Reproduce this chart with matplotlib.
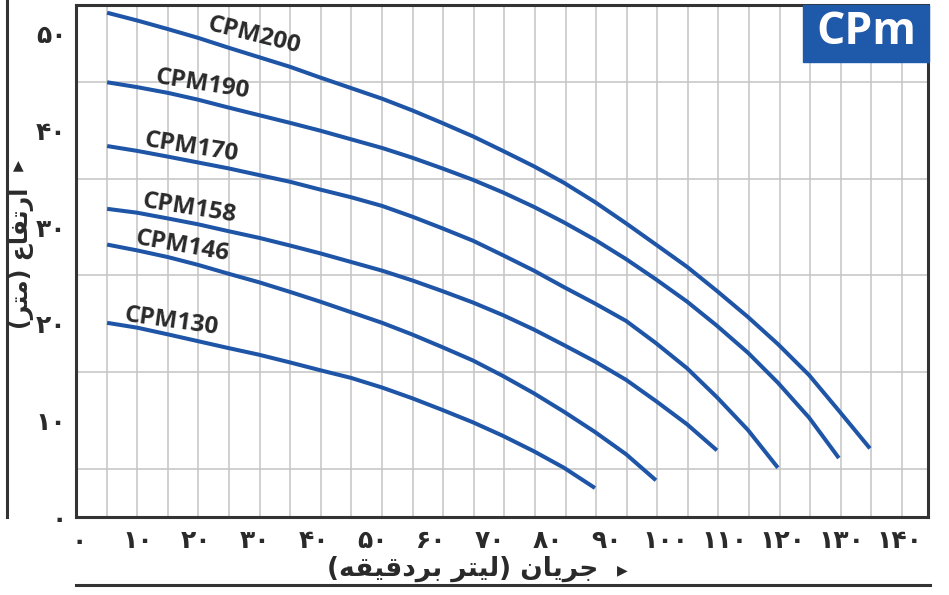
import numpy as np
import matplotlib
matplotlib.use("Agg")
import matplotlib.pyplot as plt
from matplotlib.lines import Line2D
from matplotlib.patches import Rectangle

# flow values (l/min) where the heads were read, one per vertical grid line
flow_lpm = [4.8, 9.9, 15.2, 20.3, 25.4, 30.7, 36.0, 41.1, 46.4, 51.7, 56.8, 61.9, 67.2,
            72.3, 77.6, 82.7, 88.0, 93.3, 98.4, 103.7, 108.8, 114.1, 119.2, 124.5, 129.6, 134.9]

# head (m) of each pump at those flows; each curve stops where the picture stops
cpm200_h = [52.2, 51.4, 50.5, 49.6, 48.6, 47.6, 46.6, 45.5, 44.4, 43.3, 42.1, 40.8, 39.4,
            37.9, 36.3, 34.6, 32.6, 30.4, 28.2, 25.9, 23.4, 20.7, 17.9, 14.7, 11.0, 7.1]
cpm190_h = [45.0, 44.5, 43.9, 43.2, 42.4, 41.6, 40.8, 40.0, 39.1, 38.2, 37.2, 36.1, 34.9,
            33.6, 32.1, 30.5, 28.7, 26.7, 24.6, 22.3, 19.8, 17.0, 13.9, 10.3, 6.1]
cpm170_h = [38.4, 37.9, 37.3, 36.7, 36.1, 35.4, 34.7, 33.9, 33.1, 32.2, 31.1, 29.9, 28.6,
            27.1, 25.5, 23.8, 22.1, 20.3, 18.0, 15.4, 12.4, 9.0, 5.1]
cpm158_h = [31.9, 31.5, 30.9, 30.3, 29.6, 28.9, 28.1, 27.3, 26.4, 25.5, 24.5, 23.4, 22.2,
            20.9, 19.4, 17.8, 16.1, 14.2, 12.0, 9.6, 6.9]
cpm146_h = [28.2, 27.6, 26.9, 26.1, 25.2, 24.3, 23.3, 22.3, 21.2, 20.1, 18.9, 17.6, 16.2,
            14.6, 12.8, 10.9, 8.8, 6.5, 3.8]
cpm130_h = [20.1, 19.6, 18.9, 18.2, 17.5, 16.8, 16.0, 15.2, 14.4, 13.4, 12.3, 11.1, 9.8,
            8.4, 6.8, 5.1, 3.0]

curve_names = ["CPM200", "CPM190", "CPM170", "CPM158", "CPM146", "CPM130"]
# label anchor (flow, head) and angle
label_pos = [(29.8, 49.8, -14), (21.1, 44.8, -9), (19.1, 38.3, -9),
             (18.8, 31.9, -9), (17.6, 28.0, -10), (15.7, 20.2, -8)]

x_ticks = list(range(0, 141, 10))
y_ticks = list(range(0, 51, 10))

FA_DIGITS = str.maketrans("0123456789", "۰۱۲۳۴۵۶۷۸۹")


def fa_num(v):
    return str(v).translate(FA_DIGITS)


def visual(s):
    # matplotlib has no RTL layout, so flip the pre-shaped string
    return s[::-1].translate(str.maketrans("()", ")("))


# presentation forms typed in logical order
xlabel_fa = visual("\uFE9F\uFEAE\uFEF3\uFE8E\uFEE5 (\uFEDF\uFEF4\uFE98\uFEAE \uFE91\uFEAE\uFEA9\uFED7\uFEF4\uFED8\uFEEA)")
ylabel_fa = visual("\uFE8D\uFEAD\uFE97\uFED4\uFE8E\uFEC9 (\uFEE3\uFE98\uFEAE)")

blue = "#1f55a6"
dark = "#333333"
ink = "#2a2a2a"

fig = plt.figure(figsize=(9.49, 5.95), dpi=100)
ax = fig.add_axes([76 / 949, 1 - 517 / 595, 852 / 949, 512 / 595])

ax.set_xlim(-0.51, 144.8)
ax.set_ylim(0, 53)

heads = [cpm200_h, cpm190_h, cpm170_h, cpm158_h, cpm146_h, cpm130_h]
for h, name, (lx, ly, rot) in zip(heads, curve_names, label_pos):
    ax.plot(flow_lpm[:len(h)], h, color=blue, lw=2.9, solid_capstyle="butt",
            solid_joinstyle="round", zorder=3)
    ax.text(lx, ly, name, rotation=rot, rotation_mode="anchor", ha="center", va="center",
            fontsize=17.5, fontweight="bold", family="Open Sans", color=ink, zorder=4)

# grid: one vertical line every 5.218 label units, one horizontal every 5 m
ax.set_xticks(-0.51 + 5.218 * np.arange(1, 28), minor=True)
ax.set_yticks(np.arange(5, 51, 5), minor=True)
ax.grid(which="minor", color="#c4c4c4", lw=1.1)
ax.grid(which="major", visible=False)

ax.set_xticks(x_ticks)
ax.set_xticklabels([fa_num(v) for v in x_ticks], fontsize=18, fontweight="bold", family="DejaVu Sans")
ax.set_yticks(y_ticks)
ax.set_yticklabels([fa_num(v) for v in y_ticks], fontsize=18, fontweight="bold", family="DejaVu Sans")
ax.tick_params(which="both", length=0)
ax.tick_params(axis="x", pad=9)
ax.tick_params(axis="y", pad=7)
for t in ax.get_xticklabels() + ax.get_yticklabels():
    t.set_color(ink)

for sp in ax.spines.values():
    sp.set_color(dark)
    sp.set_linewidth(2.2)

# axis titles, arrows and frame lines
fig.text(463 / 949, 1 - 569 / 595, xlabel_fa, ha="center", va="center",
         fontsize=19, fontweight="bold", family="DejaVu Sans", color=ink)
fig.text(622 / 949, 1 - 570 / 595, "\u25B6", ha="center", va="center", fontsize=10, color=ink)
fig.text(21 / 949, 1 - 258 / 595, ylabel_fa, ha="center", va="center", rotation=90,
         fontsize=17, fontweight="bold", family="DejaVu Sans", color=ink)
fig.text(18 / 949, 1 - 165 / 595, "\u25B2", ha="center", va="center", fontsize=10, color=ink)

fig.add_artist(Line2D([7 / 949, 7 / 949], [1.0, 1 - 517 / 595], color=dark, lw=2.2))
fig.add_artist(Line2D([76 / 949, 930 / 949], [1 - 585 / 595, 1 - 585 / 595], color=dark, lw=2.2))

# CPm badge
fig.add_artist(Rectangle((803 / 949, 1 - 62 / 595), 126 / 949, 57 / 595,
                         transform=fig.transFigure, color="#1f5aaa", zorder=5))
fig.text(866 / 949, 1 - 33 / 595, "CPm", ha="center", va="center", fontsize=32,
         fontweight="bold", family="Open Sans", color="white", zorder=6)

fig.savefig("out.png", dpi=100)
